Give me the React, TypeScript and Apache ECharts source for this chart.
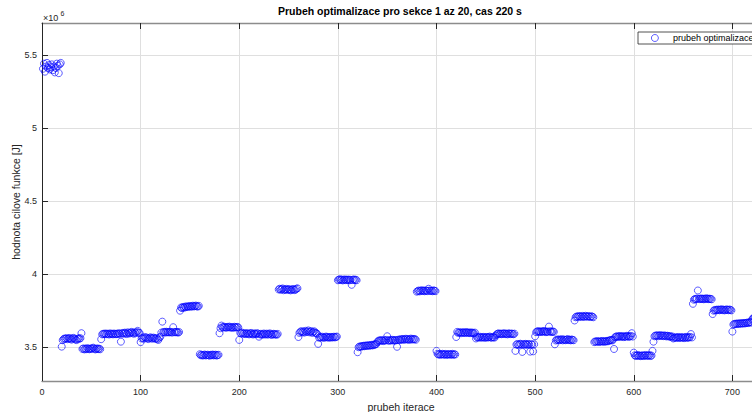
import React, { useEffect, useRef } from "react";
import * as echarts from "echarts";

const titleText = "Prubeh optimalizace pro sekce 1 az 20, cas 220 s";
const xName = "prubeh iterace";
const yName = "hodnota cilove funkce [J]";
const seriesName = "prubeh optimalizace";

const xRange = [0, 728];
const xStep = 100;
const yRange = [3.269e6, 5.718e6];
const yTicks = [3.5e6, 4.0e6, 4.5e6, 5.0e6, 5.5e6];

// First iteration of each block of the optimisation run
const blockStart = [
  1, 20, 40, 60, 80, 100, 120, 140, 160, 180, 200, 220, 240, 260, 280, 300, 320, 340, 360,
  380, 400, 420, 440, 460, 480, 500, 520, 540, 560, 580, 600, 620, 640, 660, 680, 700, 720,
];

// Objective value per iteration inside each block, in kJ
const blockValues: number[][] = [
  [5405, 5440, 5385, 5420, 5445, 5410, 5430, 5400, 5415, 5435, 5395, 5420, 5380, 5410, 5440, 5425, 5375, 5435, 5445],
  [3504, 3548, 3556, 3560, 3558, 3562, 3555, 3560, 3563, 3557, 3552, 3560, 3564, 3558, 3553, 3549, 3556, 3561, 3558, 3562],
  [3596, 3488, 3492, 3485, 3490, 3487, 3494, 3489, 3486, 3491, 3488, 3493, 3497, 3490, 3485, 3488, 3492, 3487, 3490, 3486],
  [3555, 3588, 3592, 3590, 3594, 3589, 3593, 3591, 3587, 3595, 3590, 3592, 3588, 3594, 3591, 3589, 3593, 3590, 3596, 3592],
  [3538, 3594, 3598, 3592, 3600, 3596, 3590, 3602, 3597, 3594, 3600, 3605, 3598, 3592, 3601, 3596, 3604, 3612, 3600, 3597],
  [3535, 3560, 3565, 3558, 3570, 3562, 3567, 3560, 3556, 3564, 3568, 3561, 3559, 3566, 3563, 3557, 3562, 3555, 3550, 3565],
  [3572, 3600, 3675, 3603, 3605, 3600, 3606, 3602, 3604, 3601, 3606, 3603, 3600, 3637, 3604, 3602, 3605, 3603, 3600, 3604],
  [3750, 3772, 3768, 3776, 3770, 3778, 3774, 3780, 3776, 3779, 3782, 3777, 3780, 3784, 3779, 3781, 3785, 3780, 3778, 3783],
  [3452, 3445, 3448, 3443, 3447, 3450, 3444, 3446, 3449, 3445, 3442, 3448, 3446, 3450, 3444, 3447, 3449, 3443, 3446, 3448],
  [3596, 3630, 3648, 3638, 3635, 3640, 3636, 3633, 3639, 3637, 3641, 3634, 3636, 3638, 3632, 3640, 3637, 3635, 3639, 3636],
  [3550, 3598, 3594, 3600, 3592, 3596, 3590, 3593, 3597, 3591, 3588, 3594, 3598, 3590, 3587, 3595, 3592, 3589, 3596, 3593],
  [3572, 3588, 3592, 3585, 3590, 3594, 3587, 3589, 3593, 3586, 3591, 3595, 3588, 3584, 3590, 3592, 3587, 3589, 3585, 3591],
  [3895, 3900, 3893, 3898, 3902, 3890, 3896, 3894, 3899, 3892, 3897, 3895, 3889, 3893, 3898, 3896, 3891, 3894, 3900, 3903],
  [3570, 3598, 3605, 3610, 3602, 3607, 3600, 3612, 3604, 3608, 3615, 3602, 3606, 3610, 3598, 3604, 3609, 3600, 3596, 3592],
  [3523, 3565, 3570, 3566, 3572, 3568, 3564, 3569, 3573, 3567, 3570, 3565, 3568, 3571, 3566, 3569, 3572, 3567, 3570, 3573],
  [3958, 3962, 3965, 3960, 3963, 3957, 3961, 3964, 3959, 3962, 3960, 3963, 3958, 3961, 3927, 3960, 3964, 3959, 3962, 3958],
  [3466, 3500, 3505, 3503, 3508, 3506, 3510, 3507, 3512, 3509, 3511, 3514, 3510, 3513, 3516, 3512, 3518, 3515, 3520, 3522],
  [3535, 3543, 3547, 3544, 3549, 3546, 3542, 3548, 3545, 3550, 3575, 3547, 3544, 3549, 3546, 3551, 3548, 3545, 3550, 3547],
  [3503, 3550, 3553, 3548, 3555, 3552, 3557, 3551, 3554, 3558, 3553, 3556, 3550, 3555, 3559, 3552, 3557, 3554, 3556, 3551],
  [3880, 3884, 3888, 3882, 3886, 3890, 3885, 3887, 3883, 3889, 3886, 3884, 3900, 3888, 3885, 3887, 3883, 3889, 3886, 3884],
  [3475, 3455, 3450, 3453, 3448, 3452, 3455, 3449, 3451, 3454, 3447, 3452, 3450, 3453, 3449, 3451, 3455, 3448, 3452, 3450],
  [3570, 3605, 3598, 3602, 3600, 3596, 3603, 3599, 3601, 3597, 3604, 3600, 3598, 3602, 3596, 3599, 3601, 3597, 3595, 3600],
  [3560, 3570, 3566, 3568, 3572, 3565, 3569, 3567, 3571, 3564, 3568, 3570, 3566, 3569, 3573, 3567, 3565, 3570, 3568, 3566],
  [3580, 3588, 3592, 3595, 3590, 3593, 3589, 3594, 3591, 3596, 3590, 3592, 3588, 3595, 3593, 3590, 3594, 3591, 3589, 3593],
  [3475, 3518, 3522, 3515, 3520, 3524, 3519, 3468, 3521, 3517, 3523, 3520, 3516, 3522, 3519, 3470, 3521, 3518, 3472, 3520],
  [3575, 3603, 3607, 3610, 3605, 3608, 3604, 3609, 3606, 3611, 3607, 3603, 3608, 3605, 3641, 3609, 3606, 3604, 3608, 3605],
  [3520, 3546, 3552, 3549, 3554, 3548, 3551, 3555, 3547, 3553, 3550, 3548, 3552, 3556, 3549, 3551, 3547, 3553, 3550, 3548],
  [3683, 3705, 3710, 3708, 3713, 3709, 3712, 3707, 3714, 3710, 3708, 3715, 3711, 3709, 3713, 3710, 3707, 3712, 3709, 3705],
  [3535, 3540, 3537, 3542, 3539, 3536, 3541, 3538, 3543, 3540, 3537, 3542, 3539, 3544, 3541, 3545, 3548, 3550, 3546, 3552],
  [3488, 3568, 3572, 3575, 3570, 3574, 3577, 3571, 3573, 3576, 3569, 3574, 3572, 3578, 3575, 3571, 3574, 3577, 3596, 3573],
  [3463, 3445, 3440, 3443, 3446, 3441, 3444, 3439, 3442, 3445, 3440, 3443, 3447, 3441, 3444, 3442, 3446, 3440, 3443, 3475],
  [3538, 3575, 3580, 3578, 3582, 3576, 3579, 3583, 3577, 3580, 3576, 3581, 3578, 3574, 3579, 3577, 3572, 3576, 3570, 3574],
  [3560, 3565, 3568, 3564, 3567, 3570, 3563, 3566, 3569, 3565, 3568, 3562, 3567, 3571, 3564, 3568, 3566, 3570, 3590, 3567],
  [3797, 3825, 3830, 3828, 3833, 3888, 3831, 3829, 3834, 3830, 3832, 3828, 3833, 3830, 3835, 3831, 3829, 3832, 3830, 3828],
  [3727, 3750, 3755, 3752, 3757, 3754, 3758, 3753, 3756, 3760, 3754, 3757, 3752, 3755, 3759, 3756, 3753, 3758, 3755, 3752],
  [3607, 3655, 3660, 3658, 3662, 3659, 3663, 3660, 3664, 3661, 3665, 3662, 3666, 3663, 3667, 3668, 3665, 3670, 3672, 3668],
  [3690, 3698, 3702, 3700, 3704, 3699, 3703, 3701],
];

const FONT = "'Liberation Sans', Arial, Helvetica, sans-serif";
const INK = "#262626";
const GRID = "#dfdfdf";
const BOX = "#8c8c8c";
const MARK = "#0000ff";

export default function App() {
  const ref = useRef<HTMLDivElement>(null);

  useEffect(() => {
    if (!ref.current) return;
    const chart = echarts.init(ref.current, undefined, { renderer: "svg" });

    const points: number[][] = [];
    blockValues.forEach((vals, b) => {
      vals.forEach((v, k) => points.push([blockStart[b] + k, v * 1000]));
    });

    const xLabel = (v: number) => (v % xStep === 0 ? String(v) : "");
    const yLabel = (v: number) => String(+(v / 1e6).toFixed(2));

    const markerStyle = { color: "rgba(0,0,255,0)", borderColor: MARK, borderWidth: 0.8 };

    chart.setOption({
      animation: false,
      backgroundColor: "#ffffff",
      textStyle: { fontFamily: FONT },
      title: {
        text: titleText,
        left: 278,
        top: 5,
        padding: 0,
        textStyle: { fontFamily: FONT, fontSize: 10.5, fontWeight: "bold", color: "#000000" },
      },
      legend: {
        left: 638,
        top: 32,
        orient: "horizontal",
        padding: [1.5, 8, 1.5, 13],
        itemWidth: 12,
        itemHeight: 7,
        backgroundColor: "#ffffff",
        borderColor: INK,
        borderWidth: 0.8,
        borderRadius: 0,
        itemStyle: markerStyle,
        textStyle: { fontFamily: FONT, fontSize: 9, color: "#000000", padding: [0, 0, 0, 7] },
        data: [{ name: seriesName, icon: "circle" }],
      },
      grid: { left: 42, right: -8, top: 23, bottom: 31, outerBoundsMode: "none", containLabel: false },
      xAxis: [
        {
          type: "value",
          position: "bottom",
          min: xRange[0],
          max: xRange[1],
          interval: xStep,
          name: xName,
          nameLocation: "middle",
          nameGap: 20,
          nameMoveOverlap: false,
          nameTextStyle: { fontFamily: FONT, fontSize: 10.5, color: INK },
          axisLine: { show: true, lineStyle: { color: BOX, width: 1.4 } },
          axisTick: { show: true, inside: true, length: 6, lineStyle: { color: INK, width: 1 } },
          axisLabel: { formatter: xLabel, fontFamily: FONT, fontSize: 9, color: INK, margin: 6 },
          splitLine: { show: true, lineStyle: { color: GRID, width: 1 } },
        },
        {
          type: "value",
          position: "top",
          min: xRange[0],
          max: xRange[1],
          interval: xStep,
          axisLine: { show: true, lineStyle: { color: BOX, width: 1.4 } },
          axisTick: { show: true, inside: true, length: 6, lineStyle: { color: INK, width: 1 } },
          axisLabel: { show: false },
          splitLine: { show: false },
        },
      ],
      yAxis: {
        type: "value",
        min: yRange[0],
        max: yRange[1],
        name: yName,
        nameLocation: "middle",
        nameGap: 21,
        nameMoveOverlap: false,
        nameTextStyle: { fontFamily: FONT, fontSize: 10.5, color: INK },
        axisLine: { show: true, lineStyle: { color: INK, width: 1 } },
        axisTick: { show: true, inside: true, length: 6, customValues: yTicks, lineStyle: { color: INK, width: 1 } },
        axisLabel: { customValues: yTicks, formatter: yLabel, fontFamily: FONT, fontSize: 9, color: INK, margin: 5 },
        splitLine: { show: true, lineStyle: { color: GRID, width: 1 } },
      },
      graphic: [
        {
          type: "text",
          x: 43,
          y: 18,
          silent: true,
          style: { text: "\u00d710", fontFamily: FONT, fontSize: 9, fill: INK, textVerticalAlign: "middle" },
        },
        {
          type: "text",
          x: 60.5,
          y: 13,
          silent: true,
          style: { text: "6", fontFamily: FONT, fontSize: 7, fill: INK, textVerticalAlign: "middle" },
        },
      ],
      series: [
        {
          name: seriesName,
          type: "scatter",
          symbol: "circle",
          symbolSize: 7,
          data: points,
          itemStyle: markerStyle,
          emphasis: { disabled: true },
        },
      ],
    });

    return () => chart.dispose();
  }, []);

  return (
    <div
      ref={ref}
      style={{ position: "fixed", left: 0, top: 0, width: 752, height: 412, background: "#ffffff" }}
    />
  );
}
